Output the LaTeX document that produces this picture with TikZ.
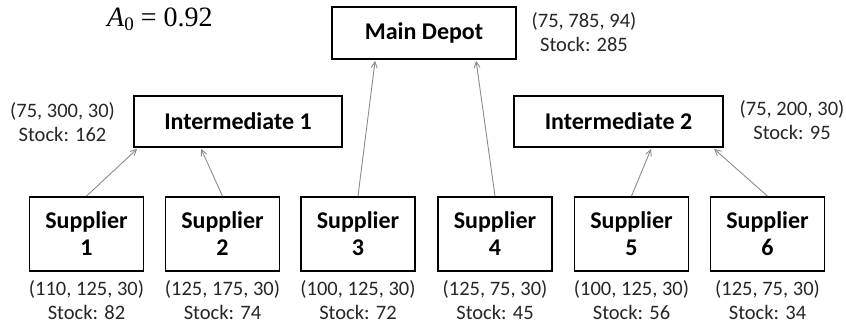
\documentclass[tikz,border=0pt]{standalone}
\usepackage{fontspec}
\setmainfont{Carlito}
\newfontfamily\mathserif{Liberation Serif}
\usetikzlibrary{arrows.meta,calc}
\begin{document}
\begin{tikzpicture}[x=1pt,y=-1pt,
  box/.style={draw=black,line width=1.8pt,font=\fontsize{24}{27}\selectfont\bfseries,align=center,inner sep=0pt},
  lbl/.style={font=\fontsize{20.5}{24.5}\selectfont,align=center,text=black!85,inner sep=0pt},
  link/.style={draw=black!45,line width=0.9pt,-{Straight Barb[length=6pt,width=6pt]}}]
\useasboundingbox (0,0) rectangle (846,327);
\node[box,minimum width=184pt,minimum height=52pt] (md) at (424,33) {Main Depot};
\node[box,minimum width=208pt,minimum height=51pt] (i1) at (238,121.5) {Intermediate 1};
\node[box,minimum width=209pt,minimum height=51pt] (i2) at (618.5,121.5) {Intermediate 2};
\foreach \n/\x in {1/86.5,2/222.5,3/358,4/495,5/631.5,6/767.5}{
  \node[box,minimum width=114pt,minimum height=74pt] (s\n) at (\x,234) {Supplier\\\n};
}
\node[lbl] (lmd) at (584,32) {(75, 785, 94)\\Stock: 285};
\node[lbl] (li1) at (62.5,122) {(75, 300, 30)\\Stock: 162};
\node[lbl] (li2) at (792,120) {(75, 200, 30)\\Stock: 95};
\node[lbl] (l1) at (86.5,300) {(110, 125, 30)\\Stock: 82};
\node[lbl] (l2) at (222.5,300) {(125, 175, 30)\\Stock: 74};
\node[lbl] (l3) at (358,300) {(100, 125, 30)\\Stock: 72};
\node[lbl] (l4) at (495,300) {(125, 75, 30)\\Stock: 45};
\node[lbl] (l5) at (631.5,300) {(100, 125, 30)\\Stock: 56};
\node[lbl] (l6) at (767.5,300) {(125, 75, 30)\\Stock: 34};
\node[font=\fontsize{28}{30}\selectfont\mathserif,inner sep=0pt,anchor=west] (a0) at (107,19)
  {\textit{A}\raisebox{-4pt}{\fontsize{19}{20}\selectfont 0}\hspace{7pt}=\hspace{7pt}0.92};
\draw[link] (s1.north) -- ($(i1.south west)+(4,1)$);
\draw[link] (s2.north) -- ($(i1.south west)+(68,1)$);
\draw[link] (s3.north) -- ($(md.south west)+(44,1)$);
\draw[link] (s4.north) -- ($(md.south west)+(145,1)$);
\draw[link] (s5.north) -- ($(i2.south west)+(138,1)$);
\draw[link] (s6.north) -- ($(i2.south west)+(201,1)$);
\end{tikzpicture}
\end{document}
